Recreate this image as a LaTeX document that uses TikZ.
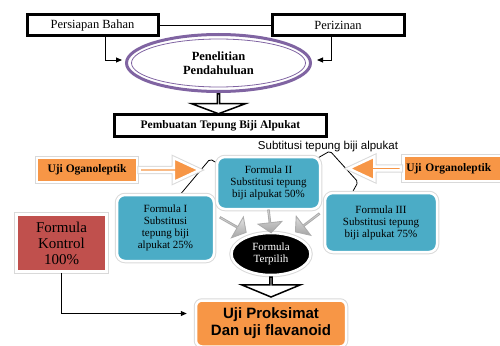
\documentclass[tikz,border=0pt]{standalone}
\usepackage{fontspec}
\setmainfont{Liberation Serif}
\newfontfamily\arialFont{Liberation Sans}
\usetikzlibrary{arrows.meta,shapes.geometric,shapes.arrows}
\definecolor{tealFill}{RGB}{75,172,198}
\definecolor{orangeFill}{RGB}{247,150,70}
\definecolor{redFill}{RGB}{192,80,77}
\definecolor{ellPurple}{RGB}{128,100,162}
\newcommand\boxLine{3pt}
\newcommand\haloLine{2.5pt}
\newcommand\haloOuter{4.5pt}

\tikzset{
  plainbox/.style={draw, line width=\boxLine, inner sep=0pt},
  halo/.style={draw=white, line width=\haloLine, preaction={draw=gray!30, line width=\haloOuter}},
  formulabox/.style={halo, fill=tealFill, rounded corners=8pt, inner sep=0pt, align=center, font=\fontsize{11}{12}\selectfont},
  blockarrow/.style={single arrow, draw, line width=1.5pt, fill=white, inner sep=0pt, anchor=tail, shape border rotate=270},
  grayarrow/.style={single arrow, draw=gray!65, line width=0.9pt, top color=gray!20, bottom color=gray!70, inner sep=0pt, single arrow tip angle=100, minimum width=24pt, single arrow head extend=6pt},
  organoarrow/.style={single arrow, halo, fill=orangeFill, inner sep=0pt, minimum width=24pt, single arrow head extend=6.5pt, single arrow tip angle=50, anchor=tail},
  thinarrow/.style={-{Triangle[length=6pt,width=5pt]}, line width=0.9pt},
}

\begin{document}
\begin{tikzpicture}[x=1pt,y=-1pt]
  \useasboundingbox (0,0) rectangle (500,345);

  \node[plainbox, minimum width=131pt, minimum height=21pt, font=\fontsize{12.5}{14}\selectfont] (pb) at (92.5,25) {Persiapan Bahan};
  \node[plainbox, minimum width=132pt, minimum height=21pt, font=\fontsize{12.5}{14}\selectfont] (pz) at (338,25) {Perizinan};
  \draw[line width=0.8pt] (pb.east) -- (pz.west);

  \node[ellipse, draw=ellPurple, line width=3pt, minimum width=184pt, minimum height=57pt, inner sep=0pt, align=center, font=\bfseries\fontsize{12.5}{14}\selectfont] (pp) at (218.5,63) {Penelitian\\Pendahuluan};
  \draw[ellPurple, line width=0.8pt] (pp.center) ellipse (87pt and 24pt);

  \draw[thinarrow] ([xshift=12.5pt]pb.south) |- ([xshift=-3pt,yshift=3pt]pp.west);
  \draw[thinarrow] ([xshift=-7pt]pz.south) |- ([xshift=5pt,yshift=3pt]pp.east);

  \node[blockarrow, minimum height=20pt, minimum width=54pt, single arrow head extend=18pt, single arrow tip angle=139] (ba1) at (pp.south) {};

  \node[plainbox, minimum width=212pt, minimum height=22pt, font=\bfseries\fontsize{11.5}{13}\selectfont] (pt) at (220.5,125.5) {Pembuatan Tepung Biji Alpukat};

  \node[inner sep=0pt, font=\arialFont\fontsize{11.5}{13}\selectfont] (sub) at (328,147) {Subtitusi tepung biji alpukat};

  \draw[line width=0.8pt, rounded corners=2pt] (181,203) -- (179,196) -- (210,159) -- (222,166) -- (316,159) -- (330,151) -- (358,182) -- (352,193);

  \node[formulabox, minimum width=97pt, minimum height=66pt] (f1) at (165.5,228) {Formula I\\Substitusi\\tepung biji\\alpukat 25\%};
  \node[formulabox, minimum width=103pt, minimum height=52pt] (f2) at (268.5,183) {Formula II\\Substitusi tepung\\biji alpukat 50\%};
  \node[formulabox, minimum width=112pt, minimum height=59pt] (f3) at (381,222.5) {Formula III\\Substitusi tepung\\biji alpukat 75\%};

  \node[ellipse, fill=black, halo, minimum width=79pt, minimum height=42pt, inner sep=0pt, align=center, text=white, font=\fontsize{11}{12.5}\selectfont] (ft) at (271,254) {Formula\\Terpilih};

  \foreach \fromA/\toA/\lenA in {f1.15/ft.137/30, f2.south/ft.north/23, f3.168/ft.43/30}{
    \path[allow upside down] (\fromA) -- (\toA) node[midway, sloped, grayarrow, minimum height=\lenA pt] {};
  }

  \node[halo, fill=orangeFill, minimum width=100pt, minimum height=24pt, inner sep=0pt, font=\bfseries\fontsize{11.5}{13}\selectfont] (uol) at (87,170) {Uji Oganoleptik};
  \node[organoarrow, minimum height=60pt] (oal) at (uol.east) {};

  \node[halo, fill=orangeFill, text width=98pt, align=left, inner xsep=3pt, inner ysep=0pt, minimum height=25pt, anchor=west, font=\bfseries\fontsize{11.5}{13}\selectfont] (uor) at (402,168.5) {Uji Organoleptik};
  \node[organoarrow, shape border rotate=180, minimum height=52pt] (oar) at (uor.west) {};

  \node[halo, fill=redFill, minimum width=90pt, minimum height=57pt, inner sep=0pt, align=center, font=\fontsize{15}{16}\selectfont] (fk) at (61.5,243) {Formula\\Kontrol\\100\%};

  \node[halo, fill=orangeFill, rounded corners=6pt, minimum width=150pt, minimum height=46pt, inner sep=0pt, align=center, font=\arialFont\bfseries\fontsize{15}{17}\selectfont] (up) at (271,323.5) {Uji Proksimat\\Dan uji flavanoid};

  \node[blockarrow, minimum height=20pt, minimum width=59pt, single arrow head extend=19pt, single arrow tip angle=135] (ba2) at (ft.south) {};

  \draw[thinarrow] (fk.south) |- ([xshift=-8pt,yshift=10pt]up.west);
\end{tikzpicture}
\end{document}
